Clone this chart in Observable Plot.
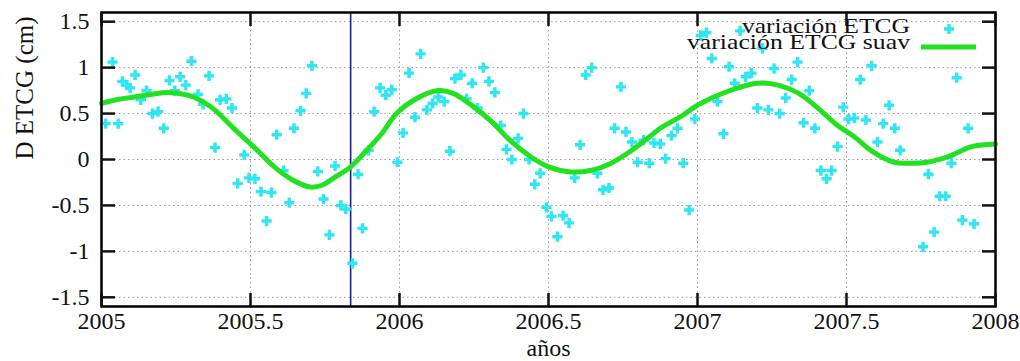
<!DOCTYPE html>
<html>
<head>
<meta charset="utf-8">
<script src="https://cdn.jsdelivr.net/npm/d3@7"></script>
<script src="https://cdn.jsdelivr.net/npm/@observablehq/plot@0.6"></script>
<style>
  html, body { margin: 0; padding: 0; background: #fff; }
</style>
</head>
<body>
<div id="chart"></div>
<script>
// Weekly ETCG variation samples (decimal year, cm)
const years = [
  2005.014, 2005.037, 2005.056, 2005.070, 2005.085, 2005.096, 2005.113, 2005.132, 2005.151, 2005.171,
  2005.190, 2005.209, 2005.228, 2005.246, 2005.264, 2005.283, 2005.302, 2005.324, 2005.341, 2005.361,
  2005.381, 2005.398, 2005.419, 2005.438, 2005.457, 2005.479, 2005.495, 2005.515, 2005.535, 2005.554,
  2005.570, 2005.588, 2005.611, 2005.630, 2005.646, 2005.668, 2005.687, 2005.706, 2005.726, 2005.745,
  2005.765, 2005.784, 2005.803, 2005.820, 2005.842, 2005.861, 2005.876, 2005.896, 2005.915, 2005.935,
  2005.954, 2005.974, 2005.993, 2006.012, 2006.032, 2006.052, 2006.071, 2006.092, 2006.111, 2006.130,
  2006.150, 2006.169, 2006.186, 2006.206, 2006.225, 2006.244, 2006.262, 2006.281, 2006.300, 2006.320,
  2006.340, 2006.359, 2006.377, 2006.398, 2006.416, 2006.435, 2006.454, 2006.472, 2006.493, 2006.510,
  2006.530, 2006.549, 2006.569, 2006.588, 2006.606, 2006.625, 2006.645, 2006.664, 2006.683, 2006.703,
  2006.722, 2006.743, 2006.760, 2006.780, 2006.799, 2006.819, 2006.838, 2006.854, 2006.875, 2006.893,
  2006.913, 2006.933, 2006.952, 2006.972, 2006.991, 2007.011, 2007.030, 2007.048, 2007.067, 2007.087,
  2007.106, 2007.125, 2007.143, 2007.162, 2007.181, 2007.201, 2007.218, 2007.238, 2007.257, 2007.276,
  2007.296, 2007.316, 2007.336, 2007.356, 2007.375, 2007.394, 2007.414, 2007.433, 2007.450, 2007.470,
  2007.489, 2007.507, 2007.526, 2007.546, 2007.565, 2007.584, 2007.604, 2007.623, 2007.643, 2007.662,
  2007.680, 2007.757, 2007.775, 2007.794, 2007.813, 2007.833, 2007.852, 2007.870, 2007.889, 2007.908,
  2007.928
];
const variation = [
  0.39, 1.06, 0.39, 0.85, 0.81, 0.78, 0.92, 0.65, 0.75, 0.50,
  0.52, 0.34, 0.86, 0.75, 0.90, 0.81, 1.07, 0.71, 0.60, 0.91,
  0.13, 0.65, 0.66, 0.56, -0.26, 0.05, -0.20, -0.21, -0.35, -0.67,
  -0.36, 0.27, -0.12, -0.47, 0.34, 0.53, 0.72, 1.02, -0.13, -0.43,
  -0.82, -0.07, -0.50, -0.54, -1.13, -0.16, -0.75, 0.10, 0.52, 0.78,
  0.70, 0.76, -0.03, 0.29, 0.94, 0.46, 1.15, 0.54, 0.61, 0.68,
  0.63, 0.09, 0.88, 0.92, 0.66, 0.83, 0.56, 1.00, 0.85, 0.73,
  0.37, 0.11, 0.00, 0.23, 0.50, 0.00, -0.27, -0.15, -0.52, -0.62,
  -0.84, -0.61, -0.69, -0.20, 0.16, 0.92, 1.00, -0.15, -0.33, -0.31,
  0.34, 0.79, 0.30, 0.19, -0.03, 0.21, -0.04, 0.18, 0.17, 0.01,
  0.26, 0.34, -0.04, -0.55, 0.44, 1.35, 1.38, 1.10, 0.63, 0.28,
  1.01, 0.83, 1.40, 0.90, 0.94, 0.56, 1.21, 0.54, 0.99, 0.50,
  0.67, 0.87, 1.06, 0.40, 0.75, 0.34, -0.12, -0.21, -0.12, 0.14,
  0.57, 0.44, 0.45, 0.87, 0.43, 1.02, 0.19, 0.39, 0.59, 0.34,
  0.10, -0.95, -0.16, -0.79, -0.40, -0.40, -0.04, 0.89, -0.66, 0.34,
  -0.70
];

// Smoothed series
const smoothYears = [
  2005.00, 2005.05, 2005.11, 2005.17, 2005.22, 2005.29, 2005.34, 2005.38, 2005.44, 2005.51,
  2005.58, 2005.64, 2005.70, 2005.74, 2005.78, 2005.836, 2005.89, 2005.94, 2005.99, 2006.05,
  2006.13, 2006.18, 2006.25, 2006.31, 2006.37, 2006.44, 2006.50, 2006.575, 2006.64, 2006.71,
  2006.78, 2006.84, 2006.875, 2006.94, 2007.01, 2007.10, 2007.20, 2007.27, 2007.34, 2007.40,
  2007.47, 2007.525, 2007.59, 2007.66, 2007.72, 2007.77, 2007.84, 2007.92, 2008.00
];
const smoothValues = [
  0.61, 0.65, 0.68, 0.71, 0.73, 0.70, 0.63, 0.54, 0.35, 0.14,
  -0.08, -0.22, -0.30, -0.28, -0.20, -0.08, 0.10, 0.28, 0.50, 0.65,
  0.75, 0.72, 0.57, 0.41, 0.21, 0.03, -0.08, -0.135, -0.12, -0.04,
  0.10, 0.25, 0.34, 0.46, 0.61, 0.74, 0.83, 0.81, 0.72, 0.57,
  0.37, 0.25, 0.08, -0.03, -0.04, -0.03, 0.03, 0.14, 0.17
];

// Reference epoch marked with a vertical line
const markerYear = [2005.836];

// Axis ticks
const xTicks = [2005, 2005.5, 2006, 2006.5, 2007, 2007.5, 2008];
const yTicks = [-1.5, -1, -0.5, 0, 0.5, 1, 1.5];

const seriesLabels = ["variación ETCG", "variación ETCG suav"];
const xLabel = "años";
const yLabel = "D ETCG (cm)";

const CYAN = "#2fe6f2";
const GREEN = "#22e022";
const SERIF = "'Liberation Serif', 'DejaVu Serif', serif";

const points = years.map((t, i) => ({year: t, value: variation[i]}));
const smooth = smoothYears.map((t, i) => ({year: t, value: smoothValues[i]}));

// Key in the upper-right corner of the frame
function key(index, scales, values, dims) {
  const right = dims.width - dims.marginRight;
  const top = dims.marginTop;
  const g = d3.create("svg:g").attr("font-family", SERIF).attr("font-size", 22);
  g.append("text").attr("x", right - 85).attr("y", top + 21)
    .attr("text-anchor", "end").attr("fill", "#111")
    .attr("textLength", 168).attr("lengthAdjust", "spacingAndGlyphs")
    .text(seriesLabels[0]);
  g.append("text").attr("x", right - 85).attr("y", top + 36.5)
    .attr("text-anchor", "end").attr("fill", "#111")
    .attr("textLength", 223).attr("lengthAdjust", "spacingAndGlyphs")
    .text(seriesLabels[1]);
  g.append("path").attr("d", d3.symbol(d3.symbolCross, 58)())
    .attr("transform", `translate(${right - 46},${top + 17})`).attr("fill", CYAN);
  g.append("line").attr("x1", right - 74).attr("x2", right - 19)
    .attr("y1", top + 35).attr("y2", top + 35)
    .attr("stroke", GREEN).attr("stroke-width", 5);
  return g.node();
}

const fmt = d => String(d);

const chart = Plot.plot({
  width: 1020,
  height: 361,
  marginLeft: 101,
  marginRight: 25,
  marginTop: 12,
  marginBottom: 55,
  style: {fontFamily: SERIF, fontSize: "24px", color: "#111", background: "white"},
  x: {domain: [2005, 2008]},
  y: {domain: [-1.6, 1.6]},
  marks: [
    Plot.gridX(xTicks, {stroke: "#9a9a9a", strokeOpacity: 1, strokeWidth: 1, strokeDasharray: "1.5,3"}),
    Plot.gridY(yTicks, {stroke: "#9a9a9a", strokeOpacity: 1, strokeWidth: 1, strokeDasharray: "1.5,3"}),
    Plot.ruleX(markerYear, {stroke: "#1c1c96", strokeWidth: 1.6}),
    Plot.dot(points, {x: "year", y: "value", symbol: "cross", r: 4.3, fill: CYAN, stroke: null}),
    Plot.line(smooth, {x: "year", y: "value", stroke: GREEN, strokeWidth: 5, curve: "catmull-rom"}),
    key,
    Plot.frame({stroke: "#000", strokeWidth: 2.5}),
    // inward major ticks on all four sides
    Plot.axisX(xTicks, {anchor: "bottom", tickSize: -13, strokeWidth: 2.5, fill: "none", label: null}),
    Plot.axisX(xTicks, {anchor: "top", tickSize: -13, strokeWidth: 2.5, fill: "none", label: null}),
    Plot.axisY(yTicks, {anchor: "left", tickSize: -14, strokeWidth: 2.5, fill: "none", label: null}),
    Plot.axisY(yTicks, {anchor: "right", tickSize: -14, strokeWidth: 2.5, fill: "none", label: null}),
    // tick labels
    Plot.axisX(xTicks, {anchor: "bottom", tickSize: 0, tickPadding: 5, tickFormat: fmt, label: null, fontSize: 24}),
    Plot.axisY(yTicks, {anchor: "left", tickSize: 0, tickPadding: 12, tickFormat: fmt, label: null, fontSize: 24}),
    // axis titles
    Plot.text([xLabel], {frameAnchor: "bottom", dy: 49, lineAnchor: "bottom", fontSize: 24}),
    Plot.text([yLabel], {frameAnchor: "left", rotate: -90, dx: -77, fontSize: 25})
  ]
});

document.getElementById("chart").appendChild(chart);
</script>
</body>
</html>
